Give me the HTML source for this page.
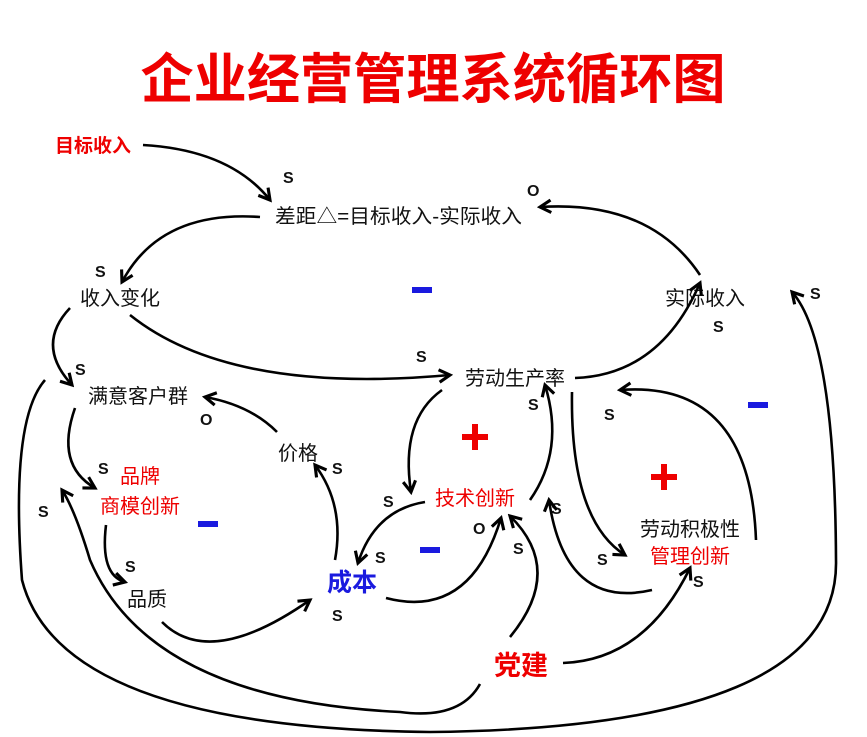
<!DOCTYPE html>
<html><head><meta charset="utf-8"><style>
html,body{margin:0;padding:0;background:#fff;}
svg{display:block;}
text{font-family:"Liberation Sans","Noto Sans CJK SC",sans-serif;}
.n{font-size:20px;fill:#111;}
.r{font-size:20px;fill:#e00;}
.s{font-size:16px;font-weight:bold;fill:#111;}
path{fill:none;stroke:#000;stroke-width:2.6;}
</style></head><body>
<svg width="867" height="737" viewBox="0 0 867 737">
<defs><marker id="a" viewBox="0 0 10 10" refX="8" refY="5" markerWidth="6" markerHeight="6" orient="auto" markerUnits="strokeWidth"><path d="M1,1 L8,5 L1,9" style="stroke:#000;stroke-width:2;fill:none"/></marker></defs>
<text x="433" y="98" text-anchor="middle" textLength="585" lengthAdjust="spacingAndGlyphs" style="font-size:54px;font-weight:bold;fill:#e00">企业经营管理系统循环图</text>
<text x="55" y="152" style="font-size:19px;font-weight:bold;fill:#e00">目标收入</text>
<text x="275" y="223" class="n" textLength="247" lengthAdjust="spacingAndGlyphs">差距△=目标收入-实际收入</text>
<text x="80" y="305" class="n">收入变化</text>
<text x="665" y="305" class="n">实际收入</text>
<text x="465" y="385" class="n">劳动生产率</text>
<text x="88" y="403" class="n">满意客户群</text>
<text x="278" y="460" class="n">价格</text>
<text x="120" y="483" class="r">品牌</text>
<text x="100" y="513" class="r">商模创新</text>
<text x="435" y="505" class="r">技术创新</text>
<text x="640" y="536" class="n">劳动积极性</text>
<text x="650" y="563" class="r">管理创新</text>
<text x="127" y="606" class="n">品质</text>
<text x="327" y="591" style="font-size:25px;font-weight:bold;fill:#1a1adf">成本</text>
<text x="494" y="675" style="font-size:27px;font-weight:bold;fill:#e00">党建</text>
<g>
<text x="283" y="183" class="s">S</text><text x="527" y="196" class="s">O</text>
<text x="95" y="277" class="s">S</text><text x="713" y="332" class="s">S</text><text x="810" y="299" class="s">S</text>
<text x="416" y="362" class="s">S</text><text x="75" y="375" class="s">S</text>
<text x="200" y="425" class="s">O</text><text x="332" y="474" class="s">S</text>
<text x="528" y="410" class="s">S</text><text x="604" y="420" class="s">S</text>
<text x="98" y="474" class="s">S</text><text x="38" y="517" class="s">S</text>
<text x="383" y="507" class="s">S</text><text x="551" y="514" class="s">S</text>
<text x="473" y="534" class="s">O</text><text x="513" y="554" class="s">S</text>
<text x="597" y="565" class="s">S</text><text x="693" y="587" class="s">S</text>
<text x="125" y="572" class="s">S</text><text x="375" y="563" class="s">S</text><text x="332" y="621" class="s">S</text>
</g>
<g fill="#1a1adf"><rect x="412" y="287" width="20" height="6"/><rect x="748" y="402" width="20" height="6"/><rect x="198" y="521" width="20" height="6"/><rect x="420" y="547" width="20" height="6"/></g>
<g fill="#e00"><rect x="462" y="434" width="26" height="6"/><rect x="472" y="424" width="6" height="26"/><rect x="651" y="474" width="26" height="6"/><rect x="661" y="464" width="6" height="26"/></g>
<g marker-end="url(#a)">
<path d="M143,145 Q230,150 270,200"/>
<path d="M260,217 Q160,210 122,282"/>
<path d="M700,275 Q650,200 540,207"/>
<path d="M70,308 Q35,345 72,385"/>
<path d="M130,315 Q230,395 450,375"/>
<path d="M575,378 Q660,375 700,283"/>
<path d="M277,432 Q250,405 205,397"/>
<path d="M75,408 Q55,465 95,488"/>
<path d="M106,525 Q100,575 125,582"/>
<path d="M162,622 Q210,670 310,600"/>
<path d="M335,560 Q345,505 315,465"/>
<path d="M425,502 Q375,510 358,563"/>
<path d="M442,390 Q400,420 411,492"/>
<path d="M530,500 Q565,450 545,385"/>
<path d="M386,598 Q470,620 501,518"/>
<path d="M572,392 Q570,520 625,555"/>
<path d="M756,540 Q750,380 620,390"/>
<path d="M652,590 Q565,610 549,500"/>
<path d="M510,637 Q565,570 510,516"/>
<path d="M563,663 Q645,660 690,568"/>
<path d="M480,684 Q460,720 400,712 Q150,700 90,560 Q75,510 62,490"/>
<path d="M45,380 Q10,420 22,580 Q60,728 430,732 Q840,728 836,560 Q835,340 792,292"/>
</g>
</svg>
</body></html>
